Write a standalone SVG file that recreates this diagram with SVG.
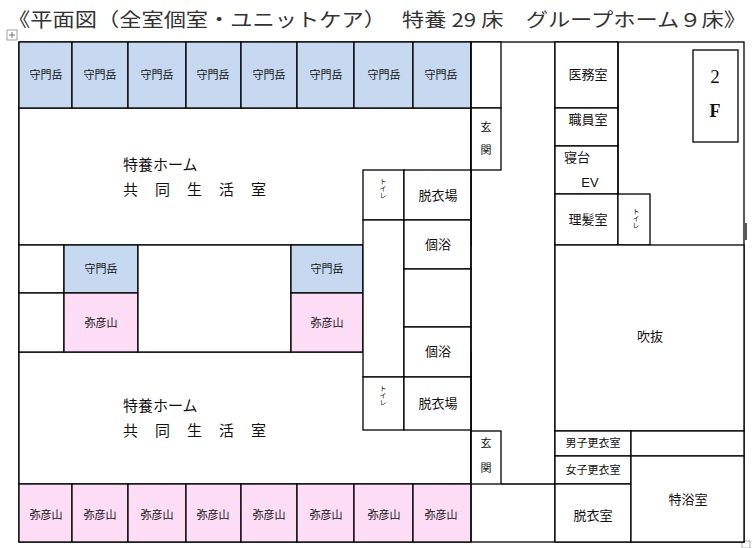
<svg xmlns="http://www.w3.org/2000/svg" width="753" height="548" viewBox="0 0 753 548">
<style>
.w{fill:#fff;stroke:#000;stroke-width:1.3}
.b{fill:#c6d9f0;stroke:#000;stroke-width:1.3}
.p{fill:#fddcf5;stroke:#000;stroke-width:1.3}
.ln{stroke:#000;stroke-width:1.3;fill:none}
text{font-family:"Noto Sans CJK JP","Liberation Sans",sans-serif;fill:#111;text-anchor:middle}
.s{font-size:11px}
.m{font-size:13px}
.l{font-size:15px}
.st{text-anchor:start}
.t{font-size:7px;writing-mode:vertical-rl}
</style>
<text x="377" y="27" style="font-size:19px;fill:#333" textLength="738" lengthAdjust="spacingAndGlyphs">《平面図（全室個室・ユニットケア）　 特養 29 床　グループホーム９床》</text>
<g id="icon"><rect x="7" y="30" width="10" height="10" fill="#fff" stroke="#888" stroke-width="0.8"/><path d="M12 32v6M9 35h6" stroke="#555" stroke-width="0.8"/><rect x="742" y="541" width="8" height="7" fill="#fff" stroke="#999" stroke-width="0.8"/></g>
<rect class="w" x="19" y="42" width="725" height="500"/>
<g id="living1"><rect class="w" x="19" y="108" width="452" height="137"/><text class="l st" x="123" y="170">特養ホーム</text><text class="l st" x="123" y="195" style="letter-spacing:17px">共同生活室</text></g>
<g id="living2"><rect class="w" x="19" y="352" width="452" height="132"/><text class="l st" x="123" y="411">特養ホーム</text><text class="l st" x="123" y="436" style="letter-spacing:17px">共同生活室</text></g>
<g id="toprow">
<rect class="b" x="19" y="42" width="53" height="66"/><text class="s" x="46" y="79">守門岳</text>
<rect class="b" x="72" y="42" width="56" height="66"/><text class="s" x="100" y="79">守門岳</text>
<rect class="b" x="128" y="42" width="58" height="66"/><text class="s" x="157" y="79">守門岳</text>
<rect class="b" x="186" y="42" width="55" height="66"/><text class="s" x="213" y="79">守門岳</text>
<rect class="b" x="241" y="42" width="56" height="66"/><text class="s" x="269" y="79">守門岳</text>
<rect class="b" x="297" y="42" width="57" height="66"/><text class="s" x="326" y="79">守門岳</text>
<rect class="b" x="354" y="42" width="59" height="66"/><text class="s" x="384" y="79">守門岳</text>
<rect class="b" x="413" y="42" width="58" height="66"/><text class="s" x="441" y="79">守門岳</text>
</g>
<g id="bottomrow">
<rect class="p" x="19" y="484" width="53" height="58"/><text class="s" x="46" y="519">弥彦山</text>
<rect class="p" x="72" y="484" width="56" height="58"/><text class="s" x="100" y="519">弥彦山</text>
<rect class="p" x="128" y="484" width="58" height="58"/><text class="s" x="157" y="519">弥彦山</text>
<rect class="p" x="186" y="484" width="55" height="58"/><text class="s" x="213" y="519">弥彦山</text>
<rect class="p" x="241" y="484" width="56" height="58"/><text class="s" x="269" y="519">弥彦山</text>
<rect class="p" x="297" y="484" width="57" height="58"/><text class="s" x="326" y="519">弥彦山</text>
<rect class="p" x="354" y="484" width="59" height="58"/><text class="s" x="384" y="519">弥彦山</text>
<rect class="p" x="413" y="484" width="58" height="58"/><text class="s" x="441" y="519">弥彦山</text>
</g>
<g id="middle">
<rect class="w" x="19" y="245" width="45" height="48"/>
<rect class="w" x="19" y="293" width="45" height="59"/>
<rect class="b" x="64" y="245" width="74" height="48"/><text class="s" x="101" y="273">守門岳</text>
<rect class="p" x="64" y="293" width="74" height="59"/><text class="s" x="101" y="327">弥彦山</text>
<rect class="w" x="138" y="245" width="153" height="107"/>
<rect class="b" x="291" y="245" width="72" height="48"/><text class="s" x="327" y="273">守門岳</text>
<rect class="p" x="291" y="293" width="72" height="59"/><text class="s" x="327" y="327">弥彦山</text>
</g>
<g id="bath">
<rect class="w" x="363" y="170" width="41" height="50"/><text class="t" x="383" y="188">トイレ</text>
<rect class="w" x="363" y="220" width="41" height="157"/>
<rect class="w" x="363" y="377" width="41" height="53"/><text class="t" x="383" y="395">トイレ</text>
<rect class="w" x="404" y="170" width="67" height="50"/><text class="m" x="438" y="200">脱衣場</text>
<rect class="w" x="404" y="220" width="67" height="49"/><text class="m" x="438" y="249">個浴</text>
<rect class="w" x="404" y="269" width="67" height="58"/>
<rect class="w" x="404" y="327" width="67" height="50"/><text class="m" x="438" y="356">個浴</text>
<rect class="w" x="404" y="377" width="67" height="53"/><text class="m" x="438" y="408">脱衣場</text>
</g>
<g id="entrances">
<rect class="w" x="471" y="42" width="30" height="66"/>
<rect class="w" x="471" y="108" width="30" height="62"/><text class="s" x="486" y="131">玄</text><text class="s" x="486" y="154">関</text>
<rect class="w" x="471" y="431" width="30" height="53"/><text class="s" x="486" y="447">玄</text><text class="s" x="486" y="472">関</text>
<path class="ln" d="M471 42V542M501 484H555M555 42V542"/>
</g>
<g id="right">
<rect class="w" x="555" y="42" width="63" height="66"/><text class="m" x="588" y="79">医務室</text>
<rect class="w" x="555" y="108" width="63" height="38"/><text class="m" x="588" y="124">職員室</text>
<rect class="w" x="555" y="146" width="63" height="48"/><text class="m" x="577" y="162">寝台</text><text class="m" x="590" y="187" style="font-family:'Liberation Sans',sans-serif">EV</text>
<rect class="w" x="555" y="194" width="63" height="51"/><text class="m" x="588" y="224">理髪室</text>
<rect class="w" x="618" y="194" width="32" height="51"/><text class="t" x="636" y="218">トイレ</text>
<path class="ln" d="M618 42V194"/>
<g id="f2"><rect class="w" x="693" y="50" width="45" height="92"/><text x="715" y="83" style="font-family:'Liberation Serif',serif;font-size:19px">2</text><text x="715" y="117" style="font-family:'Liberation Serif',serif;font-size:18px;font-weight:bold">F</text></g>
<path class="ln" d="M746 223V240"/>
<rect class="w" x="555" y="245" width="189" height="186"/><text class="m" x="650" y="341">吹抜</text>
<rect class="w" x="555" y="431" width="76" height="25"/><text class="s" x="593" y="447">男子更衣室</text>
<rect class="w" x="631" y="431" width="113" height="25"/>
<rect class="w" x="555" y="456" width="76" height="28"/><text class="s" x="593" y="474">女子更衣室</text>
<rect class="w" x="555" y="484" width="76" height="58"/><text class="m" x="593" y="520">脱衣室</text>
<rect class="w" x="631" y="456" width="113" height="86"/><text class="m" x="688" y="504">特浴室</text>
</g>
</svg>
